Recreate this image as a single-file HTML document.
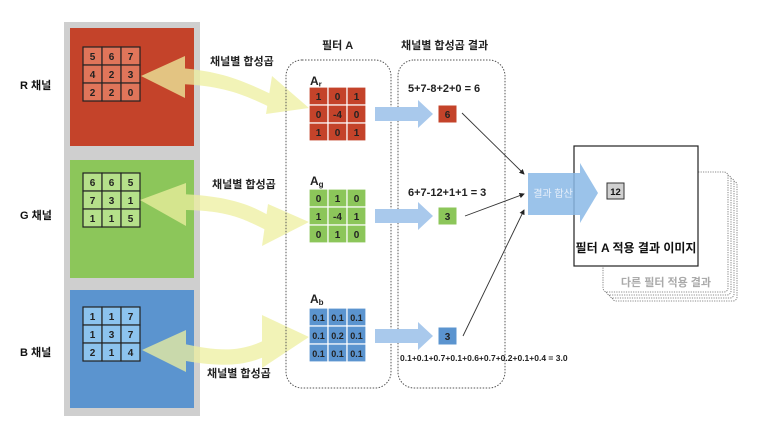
<!DOCTYPE html>
<html><head><meta charset="utf-8"><style>
body{margin:0;background:#fff;}
svg text{font-family:"Liberation Sans","Noto Sans CJK KR",sans-serif;}
</style></head><body>
<svg width="760" height="430" viewBox="0 0 760 430" xmlns="http://www.w3.org/2000/svg">
<rect width="760" height="430" fill="#fff"/>
<rect x="64" y="22" width="136" height="394" fill="#cfcfcf"/>
<rect x="70" y="28" width="124" height="118" fill="#c4432a"/>
<rect x="70" y="160" width="124" height="118" fill="#8cc65a"/>
<rect x="70" y="290" width="124" height="118" fill="#5b94cf"/>
<g font-size="11" font-weight="bold" fill="#111">
<text x="20" y="89">R 채널</text>
<text x="20" y="219">G 채널</text>
<text x="20" y="356">B 채널</text>
</g>
<g stroke="#222" stroke-width="1.2">
<g fill="#e0755a"><rect x="83" y="47" width="19" height="18"/><rect x="102" y="47" width="19" height="18"/><rect x="121" y="47" width="19" height="18"/><rect x="83" y="65" width="19" height="18"/><rect x="102" y="65" width="19" height="18"/><rect x="121" y="65" width="19" height="18"/><rect x="83" y="83" width="19" height="18"/><rect x="102" y="83" width="19" height="18"/><rect x="121" y="83" width="19" height="18"/></g>
<g fill="#b5e08a"><rect x="83" y="173" width="19" height="18"/><rect x="102" y="173" width="19" height="18"/><rect x="121" y="173" width="19" height="18"/><rect x="83" y="191" width="19" height="18"/><rect x="102" y="191" width="19" height="18"/><rect x="121" y="191" width="19" height="18"/><rect x="83" y="209" width="19" height="18"/><rect x="102" y="209" width="19" height="18"/><rect x="121" y="209" width="19" height="18"/></g>
<g fill="#8cc3ee"><rect x="83" y="307" width="19" height="18"/><rect x="102" y="307" width="19" height="18"/><rect x="121" y="307" width="19" height="18"/><rect x="83" y="325" width="19" height="18"/><rect x="102" y="325" width="19" height="18"/><rect x="121" y="325" width="19" height="18"/><rect x="83" y="343" width="19" height="18"/><rect x="102" y="343" width="19" height="18"/><rect x="121" y="343" width="19" height="18"/></g>
</g>
<g font-size="10" text-anchor="middle" fill="#222" font-weight="bold">
<text x="92.5" y="60">5</text><text x="111.5" y="60">6</text><text x="130.5" y="60">7</text>
<text x="92.5" y="78">4</text><text x="111.5" y="78">2</text><text x="130.5" y="78">3</text>
<text x="92.5" y="96">2</text><text x="111.5" y="96">2</text><text x="130.5" y="96">0</text>
<text x="92.5" y="186">6</text><text x="111.5" y="186">6</text><text x="130.5" y="186">5</text>
<text x="92.5" y="204">7</text><text x="111.5" y="204">3</text><text x="130.5" y="204">1</text>
<text x="92.5" y="222">1</text><text x="111.5" y="222">1</text><text x="130.5" y="222">5</text>
<text x="92.5" y="320">1</text><text x="111.5" y="320">1</text><text x="130.5" y="320">7</text>
<text x="92.5" y="338">1</text><text x="111.5" y="338">3</text><text x="130.5" y="338">7</text>
<text x="92.5" y="356">2</text><text x="111.5" y="356">1</text><text x="130.5" y="356">4</text>
</g>
<g fill="#eef0a0" opacity="0.75">
<path d="M180 68 C230 72 250 85 278 97 L276 110 C250 98 230 86 180 84 Z"/>
<polygon points="141,76 185,56 185,98"/>
<polygon points="309,108 272,76 266,114"/>
<path d="M180 194 C230 196 250 205 268 215 L266 230 C245 220 230 210 180 210 Z"/>
<polygon points="140,200 186,183 186,226"/>
<polygon points="309,222 268,204 262,246"/>
<path d="M180 343 C220 352 240 352 265 340 L266 356 C240 368 215 366 180 360 Z"/>
<polygon points="142,350 186,330 186,372"/>
<polygon points="309,337 262,315 262,368"/>
</g>
<g font-size="11" font-weight="bold" fill="#222">
<text x="210" y="65">채널별 합성곱</text>
<text x="212" y="188">채널별 합성곱</text>
<text x="207" y="377">채널별 합성곱</text>
</g>
<rect x="286" y="60" width="105" height="328" rx="16" fill="none" stroke="#555" stroke-width="1" stroke-dasharray="1.5,1.5"/>
<rect x="398" y="60" width="107" height="328" rx="16" fill="none" stroke="#555" stroke-width="1" stroke-dasharray="1.5,1.5"/>
<g font-size="11" font-weight="bold" fill="#222">
<text x="322" y="49">필터 A</text>
<text x="401" y="49">채널별 합성곱 결과</text>
<text x="310" y="85" font-size="12">A<tspan font-size="8" dy="2">r</tspan></text>
<text x="310" y="185" font-size="12">A<tspan font-size="8" dy="2">g</tspan></text>
<text x="310" y="303" font-size="12">A<tspan font-size="8" dy="2">b</tspan></text>
<text x="408" y="92">5+7-8+2+0 = 6</text>
<text x="408" y="196">6+7-12+1+1 = 3</text>
<text x="400" y="361" font-size="8.5">0.1+0.1+0.7+0.1+0.6+0.7+0.2+0.1+0.4 = 3.0</text>
</g>
<g stroke="#fff" stroke-width="1.2">
<g fill="#c4432a"><rect x="309" y="87" width="19" height="18"/><rect x="328" y="87" width="19" height="18"/><rect x="347" y="87" width="19" height="18"/><rect x="309" y="105" width="19" height="18"/><rect x="328" y="105" width="19" height="18"/><rect x="347" y="105" width="19" height="18"/><rect x="309" y="123" width="19" height="18"/><rect x="328" y="123" width="19" height="18"/><rect x="347" y="123" width="19" height="18"/></g>
<g fill="#8cc65a"><rect x="309" y="189" width="19" height="18"/><rect x="328" y="189" width="19" height="18"/><rect x="347" y="189" width="19" height="18"/><rect x="309" y="207" width="19" height="18"/><rect x="328" y="207" width="19" height="18"/><rect x="347" y="207" width="19" height="18"/><rect x="309" y="225" width="19" height="18"/><rect x="328" y="225" width="19" height="18"/><rect x="347" y="225" width="19" height="18"/></g>
<g fill="#5b94cf"><rect x="309" y="308" width="19" height="18"/><rect x="328" y="308" width="19" height="18"/><rect x="347" y="308" width="19" height="18"/><rect x="309" y="326" width="19" height="18"/><rect x="328" y="326" width="19" height="18"/><rect x="347" y="326" width="19" height="18"/><rect x="309" y="344" width="19" height="18"/><rect x="328" y="344" width="19" height="18"/><rect x="347" y="344" width="19" height="18"/></g>
</g>
<g font-size="10" text-anchor="middle" fill="#222" font-weight="bold">
<text x="318.5" y="100">1</text><text x="337.5" y="100">0</text><text x="356.5" y="100">1</text>
<text x="318.5" y="118">0</text><text x="337.5" y="118">-4</text><text x="356.5" y="118">0</text>
<text x="318.5" y="136">1</text><text x="337.5" y="136">0</text><text x="356.5" y="136">1</text>
<text x="318.5" y="202">0</text><text x="337.5" y="202">1</text><text x="356.5" y="202">0</text>
<text x="318.5" y="220">1</text><text x="337.5" y="220">-4</text><text x="356.5" y="220">1</text>
<text x="318.5" y="238">0</text><text x="337.5" y="238">1</text><text x="356.5" y="238">0</text>
<g font-size="9"><text x="318.5" y="321">0.1</text><text x="337.5" y="321">0.1</text><text x="356.5" y="321">0.1</text>
<text x="318.5" y="339">0.1</text><text x="337.5" y="339">0.2</text><text x="356.5" y="339">0.1</text>
<text x="318.5" y="357">0.1</text><text x="337.5" y="357">0.1</text><text x="356.5" y="357">0.1</text></g>
</g>
<g fill="#a9c9ec">
<polygon points="375,107 418,107 418,100 433,114 418,128 418,121 375,121"/>
<polygon points="375,209 418,209 418,202 433,216 418,230 418,223 375,223"/>
<polygon points="375,329 418,329 418,322 433,336 418,350 418,343 375,343"/>
</g>
<g stroke="#fff" stroke-width="1">
<rect x="438" y="105" width="19" height="18" fill="#c4432a"/>
<rect x="438" y="207" width="19" height="18" fill="#8cc65a"/>
<rect x="438" y="327" width="19" height="18" fill="#5b94cf"/>
</g>
<g font-size="10" text-anchor="middle" fill="#222" font-weight="bold">
<text x="447.5" y="118">6</text><text x="447.5" y="220">3</text><text x="447.5" y="340">3</text>
</g>
<g fill="#fff" stroke="#666" stroke-width="0.8" stroke-dasharray="1.2,1.2">
<rect x="612" y="181" width="125" height="120" rx="4"/>
<rect x="609" y="178" width="125" height="120" rx="4"/>
<rect x="606" y="175" width="125" height="120" rx="4"/>
<rect x="603" y="172" width="125" height="120" rx="4"/>
</g>
<text x="666" y="286" font-size="11" fill="#aaa" text-anchor="middle" font-weight="bold">다른 필터 적용 결과</text>
<rect x="574" y="146" width="124" height="120" fill="#fff" stroke="#222" stroke-width="1.2"/>
<text x="636" y="252" font-size="12" font-weight="bold" fill="#111" text-anchor="middle">필터 A 적용 결과 이미지</text>
<rect x="607" y="183" width="17" height="16" fill="#d0d0d0" stroke="#333" stroke-width="1"/>
<text x="615.5" y="195" font-size="9.5" text-anchor="middle" fill="#111" font-weight="bold">12</text>
<polygon points="528,173 580,173 580,163 598,193 580,223 580,215 528,215" fill="#8ab8e6" opacity="0.85"/>
<text x="553" y="197" font-size="10" fill="#e8f0fa" text-anchor="middle">결과 합산</text>
<defs><marker id="ah" markerWidth="6" markerHeight="6" refX="5" refY="3" orient="auto"><path d="M0,0 L6,3 L0,6 Z" fill="#222"/></marker></defs>
<g stroke="#333" stroke-width="0.9" marker-end="url(#ah)">
<line x1="462" y1="113" x2="524" y2="174"/>
<line x1="465" y1="216" x2="524" y2="194"/>
<line x1="463" y1="336" x2="524" y2="210"/>
</g>
</svg>
</body></html>
